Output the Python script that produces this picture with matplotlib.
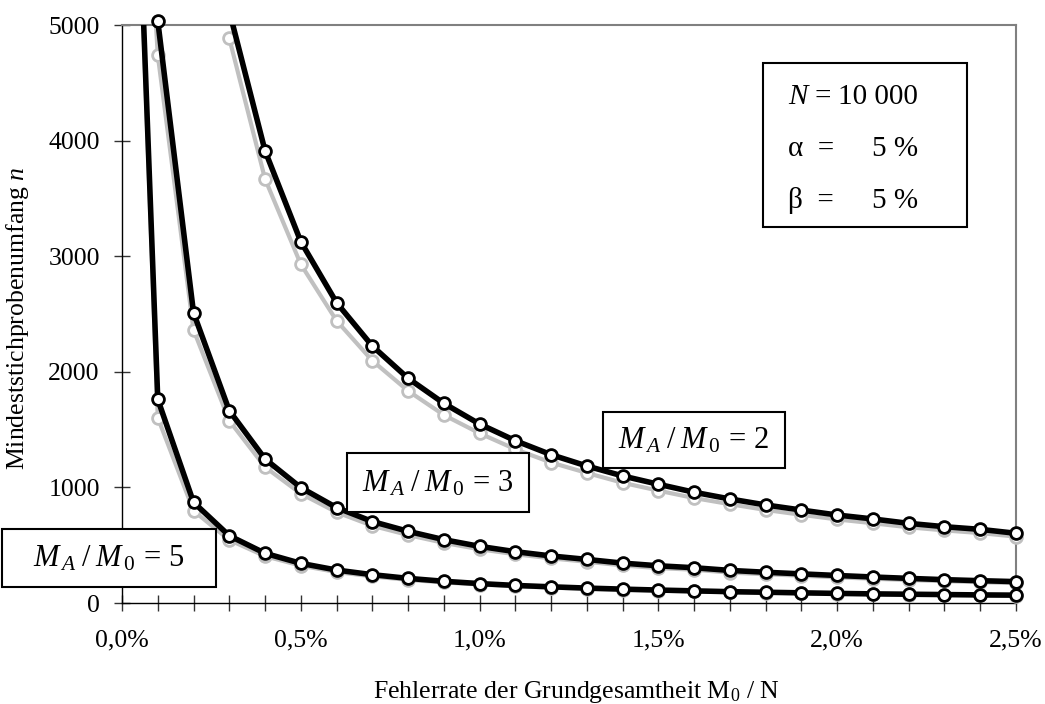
import numpy as np
import matplotlib
matplotlib.use("Agg")
import matplotlib.pyplot as plt
from matplotlib.patches import Rectangle
from matplotlib.ticker import MultipleLocator, FuncFormatter

plt.rcParams['font.family'] = ['Liberation Serif', 'DejaVu Serif']
plt.rcParams['mathtext.fontset'] = 'custom'
plt.rcParams['mathtext.rm'] = 'Liberation Serif'
plt.rcParams['mathtext.it'] = 'Liberation Serif:italic'

# error rate of the population M0/N in percent
rate = [0.0, 0.1, 0.2, 0.3, 0.4, 0.5, 0.6, 0.7, 0.8, 0.9, 1.0, 1.1, 1.2,
        1.3, 1.4, 1.5, 1.6, 1.7, 1.8, 1.9, 2.0, 2.1, 2.2, 2.3, 2.4, 2.5]
rate_ma2 = rate[3:]

# minimum sample size n, black = exact, grey = approximation
n_ma2 = [5120, 3912, 3126, 2598, 2223, 1944, 1727, 1548, 1404, 1283, 1185,
         1099, 1027, 958, 900, 848, 804, 761, 727, 689, 660, 637, 603]
n_ma2_grey = [4885, 3668, 2930, 2442, 2096, 1835, 1626, 1468, 1330, 1215, 1125,
              1040, 972, 908, 855, 805, 763, 723, 690, 655, 628, 605, 574]
n_ma3 = [10000, 5036, 2511, 1664, 1246, 998, 825, 705, 620, 548, 490, 444, 407,
         377, 345, 322, 305, 282, 266, 252, 238, 225, 213, 202, 193, 185]
n_ma3_grey = [10000, 4740, 2362, 1577, 1176, 946, 785, 668, 588, 520, 465, 422, 386,
              357, 325, 302, 288, 263, 249, 236, 222, 210, 199, 189, 180, 172]
n_ma5 = [10000, 1762, 871, 582, 430, 343, 285, 245, 213, 188, 168, 152, 140,
         129, 120, 112, 105, 98, 93, 88, 83, 79, 76, 73, 70, 68]
n_ma5_grey = [10000, 1603, 798, 545, 405, 323, 268, 230, 200, 178, 160, 145, 133,
              122, 114, 107, 100, 94, 89, 84, 80, 76, 72, 69, 66, 63]

W, H = 1045, 704
fig = plt.figure(figsize=(W / 100, H / 100), dpi=100)
ax = fig.add_axes([122 / W, 1 - 603 / H, (1016 - 122) / W, (603 - 25) / H])
ax.set_xlim(0, 2.5)
ax.set_ylim(0, 5000)


def draw(x, y, col, lw, z):
    x = np.array(x)
    y = np.array(y)
    ax.plot(x, y, color=col, lw=lw, zorder=z, solid_joinstyle='round')
    m = y <= 5050
    ax.plot(x[m], y[m], 'o', ms=8.5, mfc='white', mec=col, mew=2,
            clip_on=False, zorder=z + 1)


for x, y in [(rate_ma2, n_ma2_grey), (rate, n_ma3_grey), (rate, n_ma5_grey)]:
    draw(x, y, '#c0c0c0', 3, 2)
for x, y in [(rate_ma2, n_ma2), (rate, n_ma3), (rate, n_ma5)]:
    draw(x, y, 'black', 4, 4)

for s in ['top', 'right']:
    ax.spines[s].set_color('#808080')
    ax.spines[s].set_linewidth(1.5)
for s in ['left', 'bottom']:
    ax.spines[s].set_color('black')
    ax.spines[s].set_linewidth(1)

ax.xaxis.set_major_locator(MultipleLocator(0.5))
ax.xaxis.set_minor_locator(MultipleLocator(0.1))
ax.xaxis.set_major_formatter(FuncFormatter(lambda v, p: f"{v:.1f}%".replace('.', ',')))
ax.yaxis.set_major_locator(MultipleLocator(1000))
ax.tick_params(axis='both', which='both', direction='inout', length=12,
               width=1, color='#333333', labelsize=18.5)
ax.tick_params(axis='x', which='both', pad=13)
ax.tick_params(axis='y', pad=10)
ax.tick_params(top=False, right=False)


def px(x, y):
    return x / W, 1 - y / H


def box(x0, y0, x1, y1):
    fig.patches.append(Rectangle(px(x0, y1), (x1 - x0) / W, (y1 - y0) / H,
                                 transform=fig.transFigure, fill=True,
                                 facecolor='white', edgecolor='black',
                                 lw=1.5, zorder=10))


# curve labels
labels = [((2, 529, 216, 587), '5'), ((347, 453, 529, 512), '3'),
          ((603, 412, 785, 468), '2')]
for (x0, y0, x1, y1), k in labels:
    box(x0, y0, x1, y1)
    fig.text(*px((x0 + x1) / 2, (y0 + y1) / 2 + 1),
             r'$M_{\,A}\;/\;M_{\,0}\,=\,%s$' % k, ha='center', va='center',
             fontsize=22, zorder=11)

# parameter box
box(763, 63, 967, 227)
fig.text(*px(788, 104), r'$N$ =', fontsize=21, va='baseline', zorder=11)
fig.text(*px(918, 104), '10 000', fontsize=21, va='baseline', ha='right', zorder=11)
fig.text(*px(788, 156), 'α  =', fontsize=21, va='baseline', zorder=11)
fig.text(*px(918, 156), '5 %', fontsize=21, va='baseline', ha='right', zorder=11)
fig.text(*px(788, 208), 'β  =', fontsize=21, va='baseline', zorder=11)
fig.text(*px(918, 208), '5 %', fontsize=21, va='baseline', ha='right', zorder=11)

fig.text(*px(576, 698), r'Fehlerrate der Grundgesamtheit M$_0$ / N',
         ha='center', va='baseline', fontsize=18.5)
fig.text(*px(18, 318), r'Mindeststichprobenumfang $n$', rotation=90,
         ha='center', va='center', fontsize=18.5)

fig.savefig('out.png', dpi=100)
